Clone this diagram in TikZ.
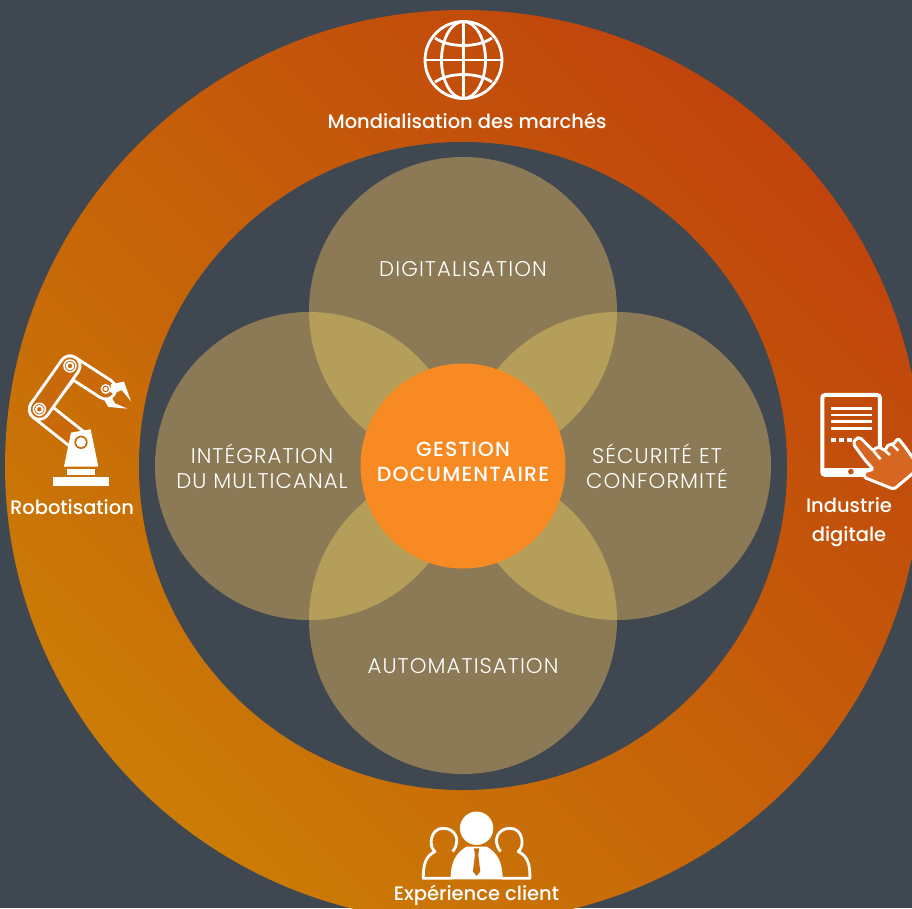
\documentclass[tikz,border=0pt]{standalone}
\usepackage{fontspec}
\setmainfont{Poppins}
\newfontfamily\lightf[UprightFont=* Light,LetterSpace=5]{Poppins}
\newfontfamily\coref[UprightFont=* Medium,LetterSpace=5.7]{Poppins}
\newfontfamily\medf[UprightFont=* Medium]{Poppins}
\definecolor{bg}{HTML}{3F4750}
\definecolor{petal}{HTML}{8B7A55}
\definecolor{lens}{HTML}{B49E5A}
\definecolor{core}{HTML}{F78A22}
\definecolor{ringA}{HTML}{CB7C06}
\definecolor{ringB}{HTML}{C0440C}
\definecolor{robotbg}{HTML}{C9690B}
\definecolor{tabbg}{HTML}{C4500D}
\definecolor{handc}{HTML}{D66723}
\definecolor{pplbg}{HTML}{C96C0A}
\tikzset{
  petalc/.style={circle,fill=petal,minimum size=308pt,inner sep=0pt},
  lbl/.style={text=white,align=center,inner sep=0pt,font=\medf\fontsize{19.5}{29}\selectfont},
  inlbl/.style={text=white,align=center,font=\lightf\fontsize{21.3}{25}\selectfont},
  corelbl/.style={text=white,align=center,font=\coref\fontsize{20.5}{25}\selectfont},
  ico/.style={draw=white,line width=2.8pt},
}
\begin{document}
\begin{tikzpicture}[x=1pt,y=-1pt]
\useasboundingbox (0,0) rectangle (912,908);
\clip (0,0) rectangle (912,908);
\fill[bg] (0,0) rectangle (912,908);
% rings
\path[shade,top color=ringA,bottom color=ringB,shading angle=135] (463,466) ellipse (458 and 456);
\fill[bg] (463,466) circle (324);
% petals
\node[petalc] (top) at (463,311) {};
\node[petalc] (left) at (309,466) {};
\node[petalc] (right) at (617,466) {};
\node[petalc] (bottom) at (463,620) {};
\begin{scope}\clip (463,311) circle (154);\fill[lens] (309,466) circle (154);\fill[lens] (617,466) circle (154);\end{scope}
\begin{scope}\clip (463,620) circle (154);\fill[lens] (309,466) circle (154);\fill[lens] (617,466) circle (154);\end{scope}
\node[circle,fill=core,minimum size=205pt,inner sep=0pt] (centre) at (463,466) {};
% inner labels
\node[inlbl] (t1) at (463,269) {DIGITALISATION};
\node[inlbl] (t2) at (262,466) {INTÉGRATION\\DU MULTICANAL};
\node[inlbl] (t3) at (657,466) {SÉCURITÉ ET\\CONFORMITÉ};
\node[inlbl] (t4) at (463,666) {AUTOMATISATION};
\node[corelbl] (t5) at (463,461.5) {GESTION\\DOCUMENTAIRE};
% outer labels
\node[lbl] (o1) at (467,121) {Mondialisation des marchés};
\node[lbl] (o2) at (72,507) {Robotisation};
\node[lbl] (o3) at (849,522) {Industrie\\digitale};
\node[lbl] (o4) at (476.5,895.5) {Expérience client};
% globe
\begin{scope}[shift={(463.5,60)}]
\draw[ico] (0,0) circle (38.5);
\draw[ico] (0,0) ellipse (22 and 38.5);
\draw[ico] (0,-38.5) -- (0,38.5) (-38.5,0) -- (38.5,0);
\draw[ico] (-28.5,-22) .. controls (-14,-12) and (14,-12) .. (28.5,-22);
\draw[ico] (-28.5,22) .. controls (-14,12) and (14,12) .. (28.5,22);
\end{scope}
% robot (coordinates from a 3x crop at 0,340)
\begin{scope}[x=0.3333pt,y=-0.3333pt,shift={(0,1020)}]
\draw[white,line width=2.8pt] (225,115) -- (160,195);
\draw[white,line width=23pt,line cap=round] (210,78) -- (317,147);
\draw[robotbg,line width=17pt,line cap=round] (210,78) -- (317,147);
\draw[white,line width=23pt,line cap=round] (118,208) -- (243,307);
\draw[robotbg,line width=17pt,line cap=round] (118,208) -- (243,307);
\draw[white,line width=23pt,line cap=round] (210,78) -- (118,208);
\draw[robotbg,line width=17pt,line cap=round] (210,78) -- (118,208);
\fill[white] (213,278) -- (272,268) -- (295,380) -- (192,380) -- cycle;
\fill[white] (202,388) rectangle (285,405);
\fill[white] (160,412) rectangle (327,437);
\fill[white] (317,147) circle (15);
\fill[robotbg] (317,147) circle (10);
\fill[white] (317,147) circle (6);
\foreach \p in {(210,78),(118,208)}{
 \draw[white,line width=1.5pt] \p circle (18);
 \draw[white,line width=1.9pt] \p circle (10);
}
\fill[white] (243,307) circle (24);
\fill[robotbg] (243,307) circle (20);
\fill[white] (243,307) circle (15);
\fill[white] (333,133) -- (372,125) -- (393,184) -- (365,150) -- (340,162) -- (330,155) -- cycle;
\fill[white] (313,180) -- (335,172) -- (345,190) -- (382,206) -- (325,201) -- cycle;
\end{scope}
% tablet
\begin{scope}[x=0.3333pt,y=-0.3333pt,shift={(2370,1140)}]
\draw[white,line width=4pt,rounded corners=3pt] (97,45) rectangle (270,285);
\fill[white] (97,263) rectangle (270,285);
\fill[tabbg] (183,275) circle (8.5);
\foreach \yy in {85,105,125,145}{\draw[white,line width=2.6pt] (122,\yy) -- (245,\yy);}
\foreach \xx in {130,155,178}{\fill[white] (\xx-7,173) rectangle (\xx+7,187);}
\draw[white,line width=3pt,fill=handc,line join=round,rounded corners=2pt] (190,192) -- (197,176) -- (210,172) -- (250,212) -- (262,200) -- (275,205) -- (285,212) -- (296,192) -- (308,195) -- (325,175) -- (345,200) -- (380,250) -- (375,275) -- (312,328) -- (222,292) -- (222,276) -- (250,268) -- (225,240) -- cycle;
\draw[white,line width=2.6pt] (250,212) -- (272,238) (285,212) -- (300,225) (308,195) -- (325,212);
\end{scope}
% people
\begin{scope}[x=0.3333pt,y=-0.3333pt,shift={(1140,2400)}]
\foreach \m in {1,-1}{
\begin{scope}[shift={(290,0)},xscale=\m]
\draw[white,line width=2.8pt,line join=round] (-75,235) -- (-160,235) .. controls (-160,195) and (-155,170) .. (-125,155) .. controls (-145,140) and (-140,85) .. (-100,85) .. controls (-65,85) and (-45,120) .. (-72,155);
\end{scope}
}
\fill[white] (290,85) circle (50);
\fill[white] (212,238) .. controls (212,190) and (225,160) .. (260,140) -- (320,140) .. controls (355,160) and (368,190) .. (368,238) -- cycle;
\fill[pplbg] (282,145) -- (298,145) -- (295,165) -- (301,215) -- (290,228) -- (279,215) -- (285,165) -- cycle;
\end{scope}
\end{tikzpicture}
\end{document}
